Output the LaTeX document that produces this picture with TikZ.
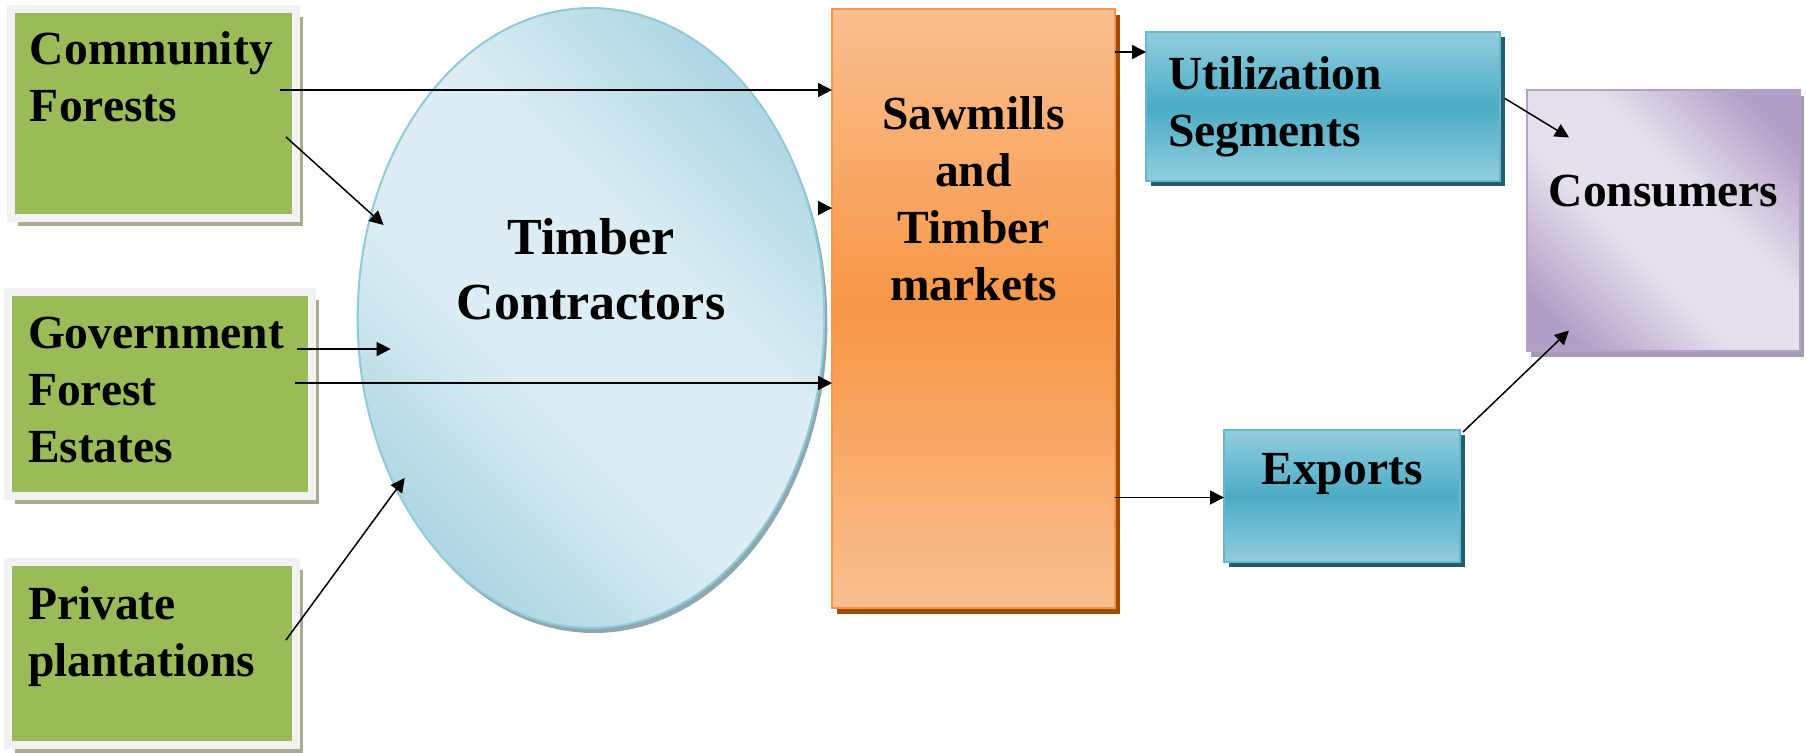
\documentclass[tikz,border=0pt]{standalone}
\usepackage{fontspec}
\setmainfont{Liberation Serif}
\usetikzlibrary{shapes.geometric}
\usetikzlibrary{shadows}
\usetikzlibrary{calc}
\usetikzlibrary{arrows.meta}

\newlength{\px}
\setlength{\px}{0.5pt}
\newcommand{\boxtext}[3]{\parbox[c][#2\px][t]{#1\px}{#3}}

\definecolor{forestgreen}{HTML}{9BBB59}
\definecolor{framegray}{HTML}{F2F2F2}
\definecolor{greenshadow}{HTML}{A7AD93}
\definecolor{bluelight}{HTML}{DCEEF3}
\definecolor{bluedark}{HTML}{A0D0DE}
\definecolor{blueline}{HTML}{8FCAD9}
\definecolor{blueshadow}{HTML}{8FA8AF}
\definecolor{orangelight}{HTML}{FAC090}
\definecolor{orangemid}{HTML}{F79646}
\definecolor{orangeshadow}{HTML}{A04C05}
\definecolor{tealmid}{HTML}{4BACC6}
\definecolor{teallight}{HTML}{93CDDD}
\definecolor{tealshadow}{HTML}{245E6E}
\definecolor{lilaclight}{HTML}{E6E0EC}
\definecolor{lilacdark}{HTML}{B09FC6}
\definecolor{lilacline}{HTML}{B3A2C7}
\definecolor{lilacshadow}{HTML}{A59BB1}

% diagonal bands for the ellipse and the consumers box
\pgfdeclareverticalshading{tcband}{100bp}{color(0bp)=(bluedark); color(20bp)=(bluedark);
  color(42bp)=(bluelight); color(58bp)=(bluelight); color(80bp)=(bluedark); color(100bp)=(bluedark)}
\pgfdeclareverticalshading{coband}{100bp}{color(0bp)=(lilacdark); color(22bp)=(lilacdark);
  color(42bp)=(lilaclight); color(58bp)=(lilaclight); color(78bp)=(lilacdark); color(100bp)=(lilacdark)}

\tikzset{
  boxfont/.style={font=\fontsize{23.75}{28.5}\selectfont\bfseries},
  srcbox/.style={rectangle, boxfont, fill=forestgreen, draw=framegray, line width=4pt,
    inner sep=0pt, outer sep=0pt,
    drop shadow={shadow xshift=3.5pt, shadow yshift=-4pt, fill=greenshadow, opacity=1}},
  tcell/.style={ellipse, font=\fontsize{26}{32.5}\selectfont\bfseries, draw=blueline, line width=1pt,
    inner sep=0pt, outer sep=0pt, shading=tcband, shading angle=-45,
    drop shadow={shadow xshift=1.5pt, shadow yshift=-2.5pt, fill=blueshadow, opacity=1}},
  millbox/.style={rectangle, boxfont, draw=orangemid, line width=1pt, inner sep=0pt, outer sep=0pt,
    top color=orangelight, bottom color=orangelight, middle color=orangemid,
    drop shadow={shadow xshift=2.5pt, shadow yshift=-3pt, fill=orangeshadow, opacity=1}},
  tealbox/.style={rectangle, boxfont, draw=tealmid!85!white, line width=1pt, inner sep=0pt, outer sep=0pt,
    top color=teallight, bottom color=teallight, middle color=tealmid,
    drop shadow={shadow xshift=2.25pt, shadow yshift=-2.5pt, fill=tealshadow, opacity=1}},
  userbox/.style={rectangle, boxfont, draw=lilacline, line width=1pt, inner sep=0pt, outer sep=0pt,
    shading=coband, shading angle=-45,
    drop shadow={shadow xshift=2pt, shadow yshift=-3pt, fill=lilacshadow, opacity=1}},
  flow/.style={-{Triangle[length=7pt,width=7pt]}, line width=0.75pt}
}

\begin{document}
\begin{tikzpicture}[x=0.5pt, y=-0.5pt]
\useasboundingbox (0,0) rectangle (1806,752);

% sources
\node[srcbox, minimum width=285\px, minimum height=209\px] (cf) at (153.5,113.5)
  {\boxtext{247}{163}{Community\\Forests}};
\node[srcbox, minimum width=304\px, minimum height=204\px] (ge) at (160,394)
  {\boxtext{264}{154}{Government\\Forest\\Estates}};
\node[srcbox, minimum width=288\px, minimum height=183\px] (pp) at (152,653.5)
  {\boxtext{248}{133}{Private\\plantations}};

% middle
\node[tcell, minimum width=464\px, minimum height=620\px] (tc) at (591,318)
  {\boxtext{330}{200}{\centering Timber\\Contractors}};
\node[millbox, minimum width=283\px, minimum height=599\px] (sm) at (973.5,308.5)
  {\boxtext{250}{423}{\centering Sawmills\\and\\Timber\\markets}};

% outlets
\node[tealbox, minimum width=354\px, minimum height=149\px] (us) at (1323,106.5)
  {\boxtext{310}{99}{Utilization\\Segments}};
\node[tealbox, minimum width=236\px, minimum height=132\px] (ex) at (1342,496)
  {\boxtext{200}{86}{\centering Exports}};
\node[userbox, minimum width=273\px, minimum height=261\px] (co) at (1663.5,220.5)
  {\boxtext{250}{91}{\centering Consumers}};

% arrows
\draw[flow] ($(cf.east)+(-16,-23.5)$) coordinate (a1) -- (a1 -| sm.west);
\draw[flow] ($(cf.east)+(-10,23.5)$) -- ($(tc.west)+(26,-93)$);
\draw[flow] ($(tc.east)+(-3,-110)$) coordinate (a3) -- (a3 -| sm.west);
\draw[flow] ($(ge.east)+(-15,-45)$) -- ($(tc.west)+(33,31)$);
\draw[flow] ($(ge.east)+(-17,-11)$) coordinate (a5) -- (a5 -| sm.west);
\draw[flow] ($(pp.east)+(-10,-13.5)$) -- ($(tc.west)+(47,160)$);
\draw[flow] ($(sm.north east)+(0,43)$) coordinate (a7) -- (a7 -| us.west);
\draw[flow] ($(sm.east)+(0,189)$) coordinate (a8) -- (a8 -| ex.west);
\draw[flow] ($(us.east)+(5,-8)$) -- ($(co.west)+(42,-83)$);
\draw[flow] ($(ex.north east)+(3,2)$) -- ($(co.west)+(42,110)$);
\end{tikzpicture}
\end{document}
